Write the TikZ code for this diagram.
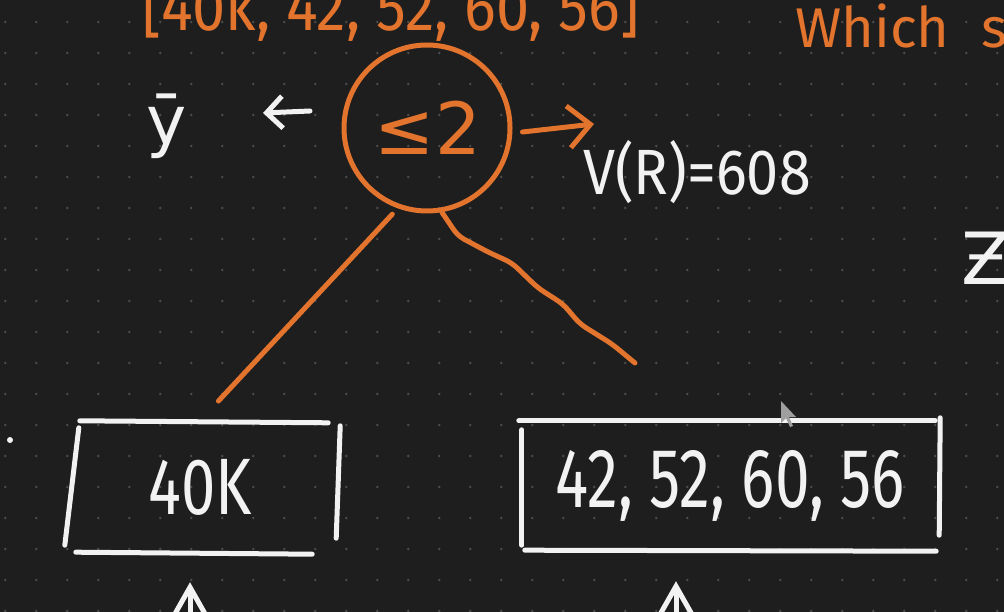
\documentclass[tikz,border=0pt]{standalone}
\usepackage{fontspec}
\setmainfont{Fira Sans}
\newfontfamily\djv{DejaVu Sans}
\usetikzlibrary{calc,arrows.meta}
\definecolor{bgc}{HTML}{1E1E1E}
\definecolor{dotc}{HTML}{4C4C4C}
\definecolor{orc}{HTML}{E2742E}
\definecolor{wc}{HTML}{F2F2F2}
\tikzset{
  wline/.style={wc, line width=5pt, line cap=round},
  oline/.style={orc, line width=5pt, line cap=round, line join=round},
  wtext/.style={text=wc, inner sep=0pt},
  otext/.style={text=orc, inner sep=0pt},
  boxnode/.style={inner sep=0pt, minimum height=132pt, text=wc},
}
\begin{document}
\begin{tikzpicture}[x=1pt,y=-1pt]
\fill[bgc] (0,0) rectangle (1004,612);
\useasboundingbox (0,0) rectangle (1004,612);
\clip (0,0) rectangle (1004,612);
\foreach \i in {0,...,32}{\foreach \j in {0,...,19}{\fill[dotc] ({5.3+31*\i},{22+31*\j}) circle (1.4pt);}}

% top texts
\node[otext, anchor=base] (list) at (391,31) {\fontsize{66}{66}\selectfont\scalebox{0.9}[1]{[40k, 42, 52, 60, 56]}};
\node[otext, anchor=base west] (which) at (795,48) {\fontsize{56}{56}\selectfont Which\hspace{32pt}s};

% split node
\node[circle, draw=orc, line width=5pt, minimum size=166pt, inner sep=0pt] (split) at (427,128) {};
\node[otext] (cond) at (428,128) {\djv\fontsize{72}{72}\selectfont ≤2};

% y bar and arrows
\node[wtext] (ybar) at (167,126) {\djv\fontsize{68}{68}\selectfont ȳ};
\coordinate (larrS) at (310,111);
\coordinate (larrE) at (263,113);
\draw[wline, -{Straight Barb[length=16pt,width=32pt]}] (larrS) -- (larrE);
\coordinate (rarrE) at (594,124);
\draw[oline, -{Straight Barb[length=22pt,width=42pt]}] (split.east) ++(10,4) coordinate (rarrS) -- (rarrE);

\node[wtext, anchor=west] (vr) at (583,172) {\fontsize{64}{64}\selectfont\scalebox{0.9}[1]{V(R)=608}};
\node[wtext] (zz) at (986,258) {\djv\fontsize{72}{72}\selectfont Ƶ};

% leaf boxes
\node[boxnode, minimum width=270pt] (leftbox) at (200,487) {\fontsize{80}{80}\selectfont\scalebox{0.77}[1]{40K}};
\node[boxnode, minimum width=420pt] (rightbox) at (730,486) {\fontsize{84}{84}\selectfont\scalebox{0.74}[1]{42, 52, 60, 56}};

% left box hand-drawn edges
\draw[wline] ($(leftbox.north west)+(15,0)$) -- ($(leftbox.north east)+(-7,2)$);
\draw[wline] ($(leftbox.north west)+(14,7)$) -- ($(leftbox.south west)+(0,-8)$);
\draw[wline] ($(leftbox.north east)+(5,5)$) -- ($(leftbox.south east)+(1,-15)$);
\draw[wline] ($(leftbox.south west)+(11,-1)$) -- ($(leftbox.south east)+(-23,1)$);

% right box hand-drawn edges
\draw[wline] ($(rightbox.north west)+(-1,1)$) -- ($(rightbox.north east)+(-5,1)$);
\draw[wline] ($(rightbox.north west)+(2,10)$) -- ($(rightbox.south west)+(2,-7)$);
\draw[wline] ($(rightbox.north east)+(0,-2)$) -- ($(rightbox.south east)+(-1,-17)$);
\draw[wline] ($(rightbox.south west)+(5,-2)$) -- ($(rightbox.south east)+(-4,-1)$);

% connectors
\draw[oline, shorten <=8pt, shorten >=27pt] (split.250) -- (leftbox.north);
\coordinate (rend) at (635,363);
\draw[oline, rounded corners=7pt] (split.280) -- (458,236) -- (488,252) -- (512,263) -- (538,288) -- (563,304) -- (580,324) -- (612,344) -- (rend);

% bottom arrows
\coordinate (la) at (190,650);
\coordinate (ra) at (676,650);
\draw[wline, -{Straight Barb[length=30pt,width=34pt]}, shorten >=29pt] (la) -- (leftbox.south -| la);
\draw[wline, -{Straight Barb[length=30pt,width=34pt]}, shorten >=29pt] (ra) -- (rightbox.south -| ra);

% stray dot and cursor
\fill[wc] (10,440) circle (3pt);
\fill[gray!75] (781,401) -- (781,423) -- (786,418) -- (790,427) -- (793,426) -- (789,417) -- (796,417) -- cycle;
\end{tikzpicture}
\end{document}
